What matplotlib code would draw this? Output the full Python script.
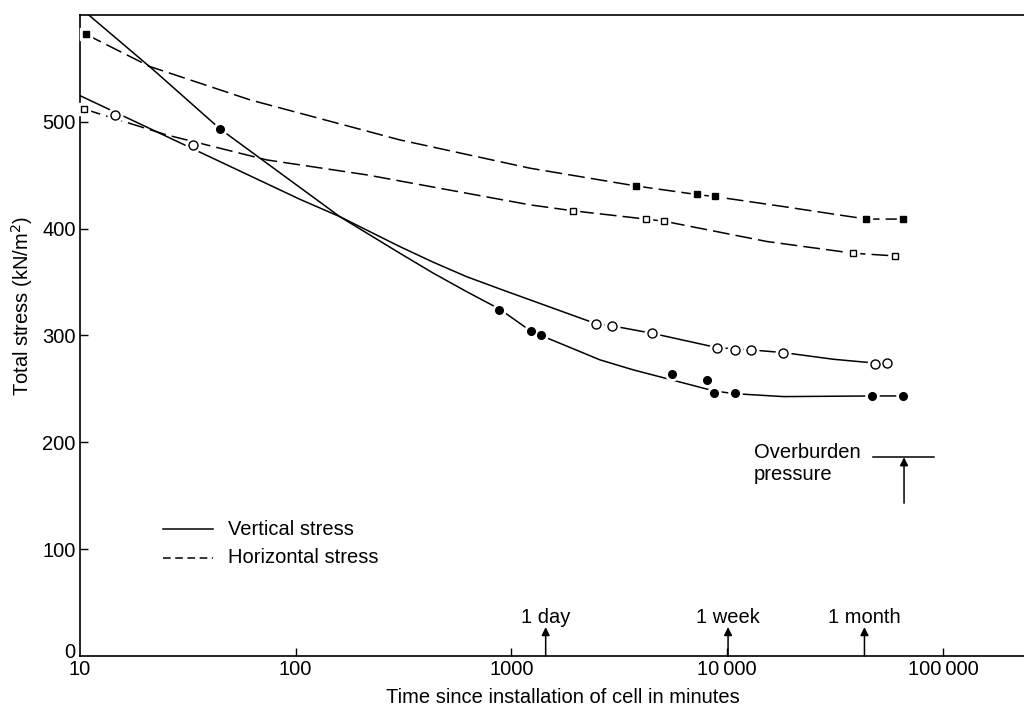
import matplotlib.pyplot as plt
from matplotlib.lines import Line2D
from matplotlib.transforms import offset_copy

plt.rcParams['font.family'] = ['Liberation Sans', 'DejaVu Sans']
plt.rcParams['font.size'] = 14.5

# traced fitted curves (minutes, kN/m2)
vert_a_x = [11.0, 21.9, 44.6, 160, 304, 432, 619, 885, 1231, 1371,
            2570, 3670, 5540, 8710, 10870, 18200, 46700, 65500]
vert_a_y = [600, 548.7, 493.4, 411.3, 377, 358.6, 341.1, 324.5, 304, 300,
            277.2, 267.8, 258.4, 248, 245.5, 242.8, 243.4, 243.4]
vert_b_x = [10, 104.6, 160, 304, 434, 619, 888,
            2466, 2930, 4500, 8990, 12900, 18200, 30900, 48200, 55000]
vert_b_y = [524.6, 427.5, 411.3, 383.2, 368.6, 355.1, 343.4,
            311, 309, 302, 288.6, 286.5, 284, 277.8, 274.2, 274.2]
horiz_a_x = [10.66, 21.1, 61.4, 105, 304, 1219, 3770, 7210, 8770, 18200, 44100, 65500]
horiz_a_y = [582, 551.8, 520.6, 508, 483.1, 456.6, 440, 432, 430, 420.7, 409, 409]
horiz_b_x = [10.47, 25.2, 73.3, 213, 1219, 1934, 4190, 5090, 15240, 38400, 59800]
horiz_b_y = [512, 487.8, 464.4, 450.4, 422.3, 416.7, 409, 407, 388, 377, 374.5]

# measured readings
vert_filled_x = [44.6, 875, 1231, 1371, 5520, 8080, 8710, 10870, 46700, 65500]
vert_filled_y = [493, 324, 304, 300, 264, 258, 246.5, 246, 243.4, 243.4]
vert_open_x = [14.5, 33.3, 2466, 2930, 4500, 8990, 10890, 12900, 18200, 48200, 55000]
vert_open_y = [506, 478, 311, 309, 302, 288.6, 286.5, 286.5, 284, 273.4, 274.6]
horiz_filled_x = [10.66, 3770, 7210, 8770, 44100, 65500]
horiz_filled_y = [582, 440, 432, 431, 409, 409]
horiz_open_x = [10.47, 1934, 4190, 5090, 38400, 59800]
horiz_open_y = [512, 416.7, 409, 407, 377, 374.5]

time_marks = [1440, 10080, 43200]
time_labels = ['1 day', '1 week', '1 month']
overburden = 186

x_ticks = [10, 100, 1000, 10000, 100000]
x_tick_labels = ['10', '100', '1000', '10\u2009000', '100\u2009000']
y_ticks = [0, 100, 200, 300, 400, 500]

fig = plt.figure(figsize=(10.24, 7.09), dpi=100)
ax = fig.add_axes([0.078, 0.0748, 0.922, 0.904])

dash = (11, 4)
ax.plot(vert_a_x, vert_a_y, color='black', lw=1.1, zorder=2)
ax.plot(vert_b_x, vert_b_y, color='black', lw=1.1, zorder=2)
ax.plot(horiz_a_x, horiz_a_y, color='black', lw=1.1, dashes=dash, zorder=2)
ax.plot(horiz_b_x, horiz_b_y, color='black', lw=1.1, dashes=dash, zorder=2)


def points(x, y, marker, size, face):
    # white halo leaves a small break in the line around each point
    ax.plot(x, y, ls='none', marker=marker, ms=size + 4, mfc='white',
            mec='white', zorder=3, clip_on=False)
    ax.plot(x, y, ls='none', marker=marker, ms=size, mfc=face,
            mec='black', mew=1.0, zorder=4, clip_on=False)


points(vert_filled_x, vert_filled_y, 'o', 5.5, 'black')
points(vert_open_x, vert_open_y, 'o', 6.5, 'white')
points(horiz_filled_x, horiz_filled_y, 's', 5, 'black')
points(horiz_open_x, horiz_open_y, 's', 5, 'white')

ax.set_xscale('log')
ax.set_xlim(10, 237000)
ax.set_ylim(0, 600)
ax.set_xticks(x_ticks)
ax.set_xticklabels(x_tick_labels)
ax.minorticks_off()
ax.set_yticks(y_ticks)
ax.tick_params(axis='both', direction='in', length=6, width=1, pad=3)
ax.xaxis.get_major_ticks()[0].tick1line.set_visible(False)
ax.yaxis.get_major_ticks()[0].tick1line.set_visible(False)
zero_label = ax.yaxis.get_major_ticks()[0].label1
zero_label.set_transform(offset_copy(zero_label.get_transform(), fig=fig,
                                     x=0, y=5, units='dots'))

ax.spines['right'].set_visible(False)
for s in ['left', 'top', 'bottom']:
    ax.spines[s].set_linewidth(1.2)

ax.set_xlabel('Time since installation of cell in minutes')
ax.set_ylabel('Total stress (kN/m$^2$)')
ax.xaxis.set_label_coords(0.512, -0.05)
ax.yaxis.set_label_coords(-0.048, 0.546)

# 1 day / 1 week / 1 month markers on the time axis
for t, lab in zip(time_marks, time_labels):
    ax.annotate('', xy=(t, 27), xytext=(t, 0),
                arrowprops=dict(arrowstyle='-|>', color='black', lw=1.1,
                                mutation_scale=12, shrinkA=0, shrinkB=0))
    ax.text(t, 27, lab, ha='center', va='bottom')

# overburden pressure
ax.plot([47200, 91200], [overburden, overburden], color='black', lw=1.1)
ax.annotate('', xy=(65900, overburden), xytext=(65900, 143),
            arrowprops=dict(arrowstyle='-|>', color='black', lw=1.1,
                            mutation_scale=12, shrinkA=0, shrinkB=0))
ax.text(13250, 199, 'Overburden\npressure', ha='left', va='top',
        linespacing=1.15)

# key
ax.add_line(Line2D([0.088, 0.141], [0.198, 0.198], color='black', lw=1.1,
                   transform=ax.transAxes))
ax.add_line(Line2D([0.088, 0.141], [0.153, 0.153], color='black', lw=1.1,
                   dashes=(5, 3), transform=ax.transAxes))
ax.text(0.157, 0.198, 'Vertical stress', transform=ax.transAxes, va='center')
ax.text(0.157, 0.153, 'Horizontal stress', transform=ax.transAxes, va='center')

fig.savefig('out.png', dpi=100)
